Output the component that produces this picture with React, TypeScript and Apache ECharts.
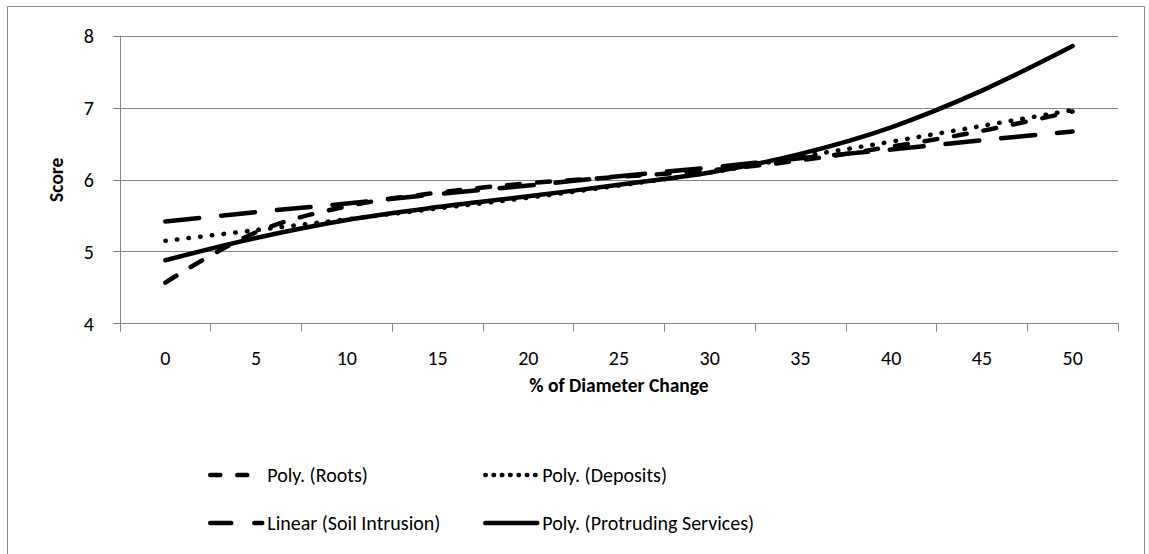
import React, { useEffect, useRef } from "react";
import * as echarts from "echarts";

// % of diameter change (category axis)
const categories = ["0", "5", "10", "15", "20", "25", "30", "35", "40", "45", "50"];

// Trend line scores at each category
const rootsScores = [4.57, 5.27, 5.63, 5.82, 5.95, 6.04, 6.13, 6.27, 6.46, 6.68, 6.95];
const depositsScores = [5.15, 5.3, 5.45, 5.6, 5.75, 5.92, 6.1, 6.32, 6.53, 6.75, 6.97];
const soilScores = [5.42, 5.55, 5.67, 5.8, 5.92, 6.05, 6.17, 6.3, 6.42, 6.55, 6.67];
const protrudingScores = [4.88, 5.19, 5.44, 5.62, 5.77, 5.93, 6.1, 6.36, 6.73, 7.24, 7.86];

const seriesNames = [
  "Poly. (Roots)",
  "Poly. (Deposits)",
  "Linear (Soil Intrusion)",
  "Poly. (Protruding Services)",
];

const yTicks = { min: 4, max: 8, interval: 1 };

const FONT = "Carlito, Calibri, Lato, sans-serif";
const GRAY = "#868686";
const LINE_W = 4.5;

export default function App() {
  const ref = useRef<HTMLDivElement>(null);

  useEffect(() => {
    if (!ref.current) return;
    const chart = echarts.init(ref.current, undefined, { renderer: "svg" });

    const lineSeries = (name: string, data: number[], dash: number[] | "solid", z: number) => ({
      name,
      type: "line",
      data,
      smooth: 0.35,
      symbol: "none",
      z,
      lineStyle: { color: "#000", width: LINE_W, type: dash, cap: "round", join: "round" },
      itemStyle: { color: "#000" },
      emphasis: { disabled: true },
    });

    // one legend block per entry so each sits in its own column / row
    const legendItem = (name: string, left: number, top: number, dash: number[] | "solid") => ({
      data: [name],
      left,
      top,
      padding: 0,
      itemWidth: 52,
      itemHeight: 14,
      selectedMode: false,
      textStyle: { fontFamily: FONT, fontSize: 20, color: "#000" },
      lineStyle: { width: LINE_W, type: dash, cap: "round", color: "#000" },
      itemStyle: { color: "rgba(0,0,0,0)", borderWidth: 0, opacity: 0 },
    });

    chart.setOption({
      animation: false,
      backgroundColor: "#fff",
      textStyle: { fontFamily: FONT },
      grid: { left: 120, right: 31, top: 36, bottom: 230.5, containLabel: false },
      graphic: [
        {
          type: "rect",
          shape: { x: 7.5, y: 6.5, width: 1137, height: 570 },
          style: { fill: "none", stroke: GRAY, lineWidth: 1 },
          silent: true,
        },
      ],
      legend: [
        legendItem(seriesNames[0], 208, 465, [10, 17]),
        legendItem(seriesNames[1], 483, 465, [0.5, 7.8]),
        legendItem(seriesNames[2], 208, 513, [21, 23]),
        legendItem(seriesNames[3], 483, 513, "solid"),
      ],
      xAxis: {
        type: "category",
        data: categories,
        boundaryGap: true,
        name: "% of Diameter Change",
        nameLocation: "middle",
        nameGap: 51,
        nameTextStyle: { fontFamily: FONT, fontSize: 19.5, fontWeight: "bold", color: "#000" },
        axisLine: { show: true, lineStyle: { color: GRAY, width: 1 } },
        axisTick: { show: true, length: 8, lineStyle: { color: GRAY } },
        axisLabel: { interval: 0, margin: 24, fontFamily: FONT, fontSize: 20, color: "#000" },
        splitLine: { show: false },
      },
      yAxis: {
        type: "value",
        min: yTicks.min,
        max: yTicks.max,
        interval: yTicks.interval,
        name: "Score",
        nameLocation: "middle",
        nameGap: 54,
        nameTextStyle: { fontFamily: FONT, fontSize: 19.5, fontWeight: "bold", color: "#000" },
        axisLine: { show: true, lineStyle: { color: GRAY, width: 1 } },
        axisTick: { show: true, length: 7, lineStyle: { color: GRAY } },
        axisLabel: { margin: 26, fontFamily: FONT, fontSize: 20, color: "#000" },
        splitLine: { show: true, lineStyle: { color: GRAY, width: 1 } },
      },
      series: [
        lineSeries(seriesNames[0], rootsScores, [13, 17], 2),
        lineSeries(seriesNames[1], depositsScores, [0.5, 11.2], 3),
        lineSeries(seriesNames[2], soilScores, [34, 22], 2),
        lineSeries(seriesNames[3], protrudingScores, "solid", 4),
      ],
    });

    return () => chart.dispose();
  }, []);

  return (
    <div
      ref={ref}
      style={{ position: "absolute", left: 0, top: 0, width: 1149, height: 554, background: "#fff" }}
    />
  );
}
